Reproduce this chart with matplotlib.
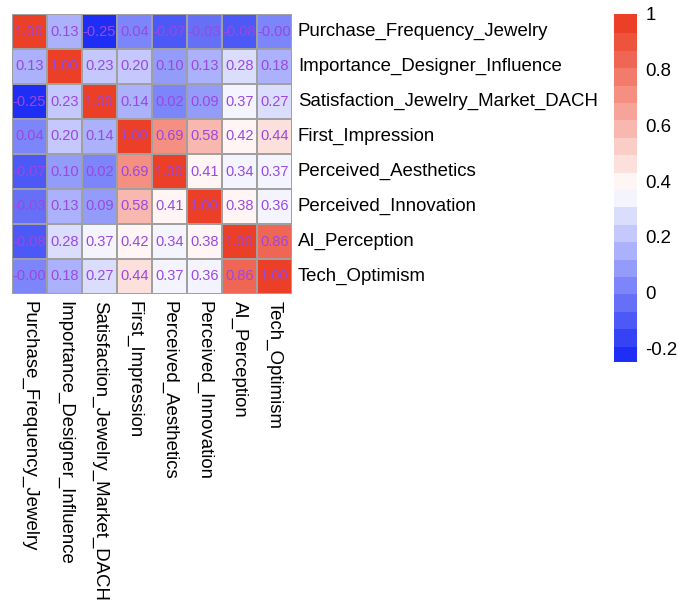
import numpy as np
import matplotlib
matplotlib.use("Agg")
import matplotlib.pyplot as plt
from matplotlib.colors import LinearSegmentedColormap, ListedColormap, BoundaryNorm
from matplotlib.cm import ScalarMappable

plt.rcParams['font.family'] = ['Liberation Sans', 'DejaVu Sans']

variables = ["Purchase_Frequency_Jewelry", "Importance_Designer_Influence",
             "Satisfaction_Jewelry_Market_DACH", "First_Impression",
             "Perceived_Aesthetics", "Perceived_Innovation", "AI_Perception",
             "Tech_Optimism"]

row_pfj = [1.00, 0.13, -0.25, 0.04, -0.07, -0.03, -0.08, -0.00]
row_idi = [0.13, 1.00, 0.23, 0.20, 0.10, 0.13, 0.28, 0.18]
row_sjm = [-0.25, 0.23, 1.00, 0.14, 0.02, 0.09, 0.37, 0.27]
row_fi = [0.04, 0.20, 0.14, 1.00, 0.69, 0.58, 0.42, 0.44]
row_pa = [-0.07, 0.10, 0.02, 0.69, 1.00, 0.41, 0.34, 0.37]
row_pi = [-0.03, 0.13, 0.09, 0.58, 0.41, 1.00, 0.38, 0.36]
row_ai = [-0.08, 0.28, 0.37, 0.42, 0.34, 0.38, 1.00, 0.86]
row_to = [-0.00, 0.18, 0.27, 0.44, 0.37, 0.36, 0.86, 1.00]

cbar_ticks = [-0.2, 0, 0.2, 0.4, 0.6, 0.8, 1]
cbar_labels = ["-0.2", "0", "0.2", "0.4", "0.6", "0.8", "1"]

corr = np.array([row_pfj, row_idi, row_sjm, row_fi, row_pa, row_pi, row_ai, row_to])
n = len(variables)

vmin, vmax = -0.25, 1.0
nbins = 20
base = LinearSegmentedColormap.from_list("bwr2", ["#1E2EF4", "#FFFFFF", "#EC3F28"])
cols = [base(i / (nbins - 1)) for i in range(nbins)]
cmap = ListedColormap(cols)
bounds = np.linspace(vmin, vmax, nbins + 1)
norm = BoundaryNorm(bounds, nbins)

W, H = 678, 601
fig = plt.figure(figsize=(W / 100, H / 100), dpi=100)

# heatmap axes (pixel coordinates)
x0, y0, side = 12, 14, 280
ax = fig.add_axes([x0 / W, 1 - (y0 + side) / H, side / W, side / H])
ax.pcolormesh(np.arange(n + 1), np.arange(n + 1), corr, cmap=cmap, norm=norm,
              edgecolors="#A0A0A0", linewidth=1.2)
ax.set_xlim(0, n)
ax.set_ylim(n, 0)
ax.set_axis_off()

for i in range(n):
    for j in range(n):
        ax.text(j + 0.5, i + 0.5, f"{corr[i, j]:.2f}", ha="center", va="center",
                fontsize=10.5, color="#9A48E2")

# row labels on the right
for i, name in enumerate(variables):
    ax.text(n + 0.17, i + 0.5, name, ha="left", va="center", fontsize=13.4,
            color="black", clip_on=False)

# column labels below, rotated
for j, name in enumerate(variables):
    ax.text(j + 0.5, n + 0.2, name, ha="center", va="top", rotation=270,
            fontsize=13.4, color="black", clip_on=False)

# colorbar
cx, cy, cw, ch = 614, 14, 23, 348
cax = fig.add_axes([cx / W, 1 - (cy + ch) / H, cw / W, ch / H])
sm = ScalarMappable(norm=norm, cmap=cmap)
cb = fig.colorbar(sm, cax=cax, boundaries=bounds, ticks=cbar_ticks)
cb.ax.minorticks_off()
cb.ax.set_yticklabels(cbar_labels)
cb.ax.tick_params(which="both", length=0, labelsize=13.4, pad=6)
cb.outline.set_visible(False)
cb.solids.set_edgecolor("face")
cb.ax.set_ylim(vmin, vmax)

fig.savefig("out.png", dpi=100)
